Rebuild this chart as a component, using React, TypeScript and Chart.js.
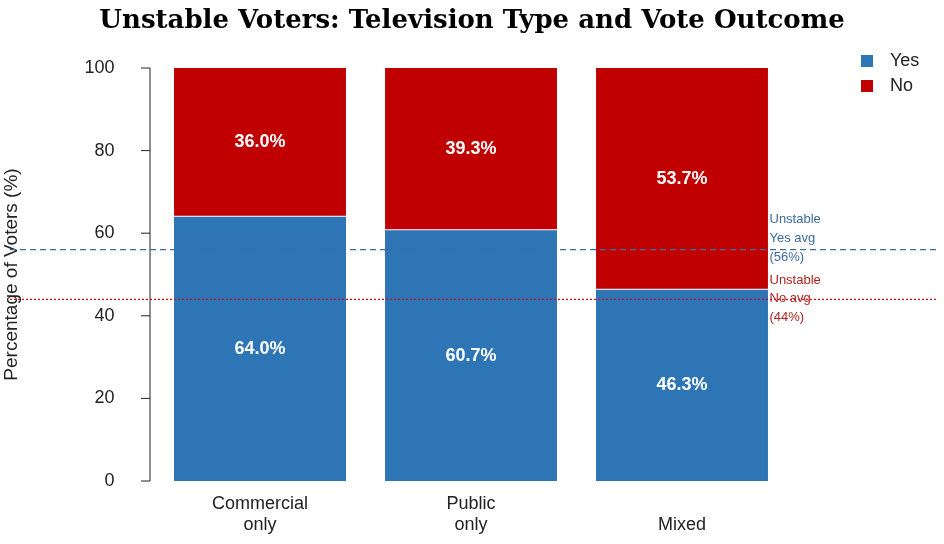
import React, { useEffect, useRef } from "react";
import { Chart, registerables } from "chart.js";
Chart.register(...registerables);

const categories = [["Commercial", "only"], ["Public", "only"], ["", "Mixed"]];
const yesValues = [64.0, 60.7, 46.3];
const noValues = [36.0, 39.3, 53.7];
const yesAvg = 56;
const noAvg = 44;
const yTicks = [0, 20, 40, 60, 80, 100];

const BLUE = "#2e75b6";
const RED = "#c00000";
const SANS = "'Liberation Sans', Arial, sans-serif";

export default function App() {
  const ref = useRef<HTMLCanvasElement>(null);
  useEffect(() => {
    const overlay = {
      id: "overlay",
      afterDatasetsDraw(chart: any) {
        const ctx = chart.ctx;
        const y = chart.scales.y;
        const area = chart.chartArea;
        ctx.save();
        // y axis line and ticks
        const ax = 150;
        ctx.strokeStyle = "#222";
        ctx.lineWidth = 1;
        ctx.beginPath();
        ctx.moveTo(ax, y.getPixelForValue(0));
        ctx.lineTo(ax, y.getPixelForValue(100));
        yTicks.forEach((t) => {
          const py = y.getPixelForValue(t);
          ctx.moveTo(ax - 9, py);
          ctx.lineTo(ax, py);
        });
        ctx.stroke();
        // data labels
        ctx.fillStyle = "#fff";
        ctx.font = `bold 18px ${SANS}`;
        ctx.textAlign = "center";
        ctx.textBaseline = "middle";
        [0, 1].forEach((di) => {
          const meta = chart.getDatasetMeta(di);
          meta.data.forEach((bar: any, i: number) => {
            const v = (di === 0 ? yesValues : noValues)[i];
            ctx.fillText(v.toFixed(1) + "%", bar.x, (bar.y + bar.base) / 2);
          });
        });
        // average lines
        const yy = y.getPixelForValue(yesAvg);
        const ny = y.getPixelForValue(noAvg);
        ctx.lineWidth = 1.2;
        ctx.strokeStyle = "#3b6fa3";
        ctx.setLineDash([6, 4]);
        ctx.beginPath();
        ctx.moveTo(10, yy);
        ctx.lineTo(936, yy);
        ctx.stroke();
        ctx.strokeStyle = "#d0101a";
        ctx.setLineDash([2, 2]);
        ctx.beginPath();
        ctx.moveTo(10, ny);
        ctx.lineTo(936, ny);
        ctx.stroke();
        ctx.setLineDash([]);
        ctx.font = `13px ${SANS}`;
        ctx.textAlign = "left";
        ctx.fillStyle = "#3b6a9e";
        ["Unstable", "Yes avg", "(56%)"].forEach((t, i) => ctx.fillText(t, area.right - 18, yy - 30 + i * 19));
        ctx.fillStyle = "#b22222";
        ["Unstable", "No avg", "(44%)"].forEach((t, i) => ctx.fillText(t, area.right - 18, ny - 19 + i * 18.5));
        // legend
        ctx.font = `18px ${SANS}`;
        [["Yes", BLUE, 61], ["No", RED, 86]].forEach(([t, c, py]: any) => {
          ctx.fillStyle = c;
          ctx.fillRect(861, py - 6, 12, 12);
          ctx.fillStyle = "#222";
          ctx.fillText(t, 890, py);
        });
        // title
        ctx.fillStyle = "#000";
        ctx.textAlign = "center";
        ctx.font = `bold 26px 'Palatino Linotype', 'DejaVu Serif', 'Liberation Serif', serif`;
        ctx.fillText("Unstable Voters: Television Type and Vote Outcome", 472, 21);
        ctx.restore();
      },
    };
    const chart = new Chart(ref.current!, {
      type: "bar",
      data: {
        labels: categories as any,
        datasets: [
          { label: "Yes", data: yesValues, backgroundColor: BLUE, borderWidth: 0 },
          { label: "No", data: noValues, backgroundColor: RED, borderColor: "#fff", borderWidth: { bottom: 1, top: 0, left: 0, right: 0 } as any, borderSkipped: false },
        ],
      },
      options: {
        animation: false,
        responsive: false,
        layout: { padding: { top: 68, right: 156.5, bottom: 0, left: 0 } },
        plugins: { legend: { display: false }, tooltip: { enabled: false } },
        datasets: { bar: { barPercentage: 0.815, categoryPercentage: 1 } },
        scales: {
          x: {
            stacked: true,
            grid: { display: false },
            border: { display: false },
            ticks: { color: "#222", font: { size: 18, family: SANS }, padding: 4 },
            afterFit: (s: any) => { s.height = 63; },
          },
          y: {
            stacked: true,
            min: 0,
            max: 100,
            grid: { display: false },
            border: { display: false },
            afterBuildTicks: (s: any) => { s.ticks = yTicks.map((v) => ({ value: v })); },
            ticks: { color: "#222", font: { size: 18, family: SANS }, padding: 32 },
            title: { display: true, text: "Percentage of Voters (%)", color: "#222", font: { size: 19, family: SANS }, padding: 0 },
            afterFit: (s: any) => { s.width = 154.5; },
          },
        },
      },
      plugins: [overlay],
    });
    return () => chart.destroy();
  }, []);
  return (
    <div style={{ position: "fixed", left: 0, top: 0, width: 944, height: 544, background: "#fff" }}>
      <canvas ref={ref} width={944} height={544} style={{ width: 944, height: 544 }} />
    </div>
  );
}
